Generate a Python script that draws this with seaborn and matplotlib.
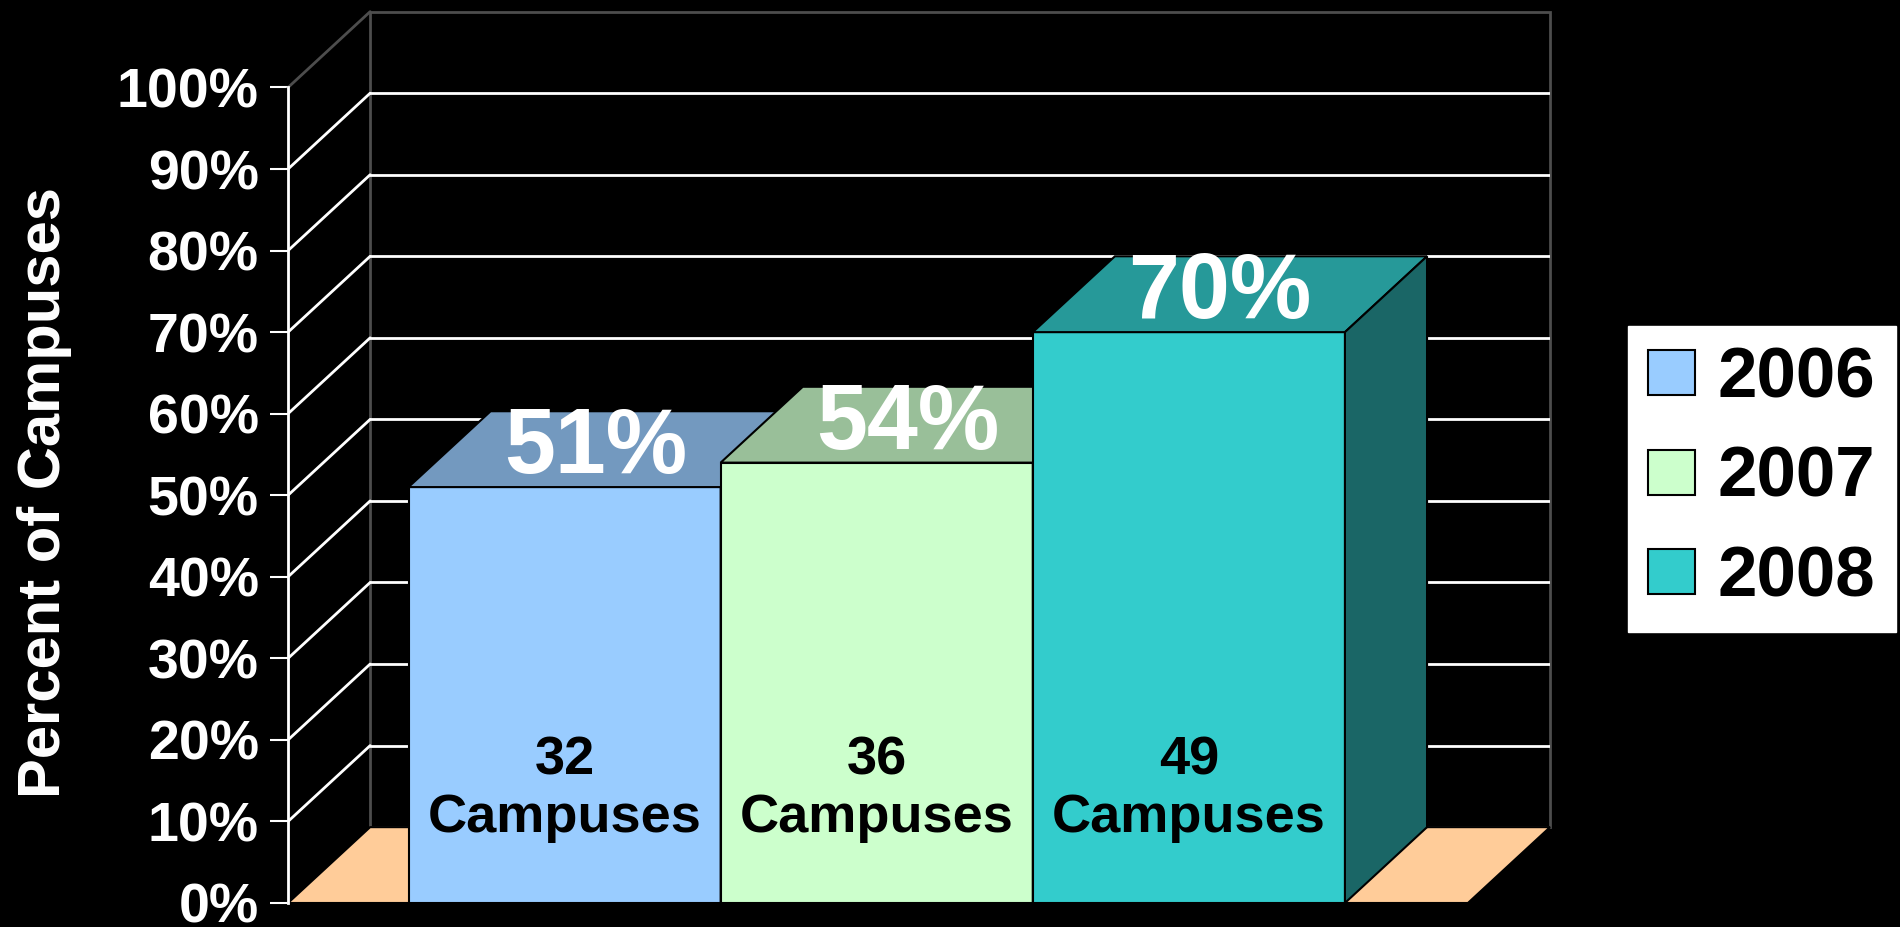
import matplotlib
matplotlib.use("Agg")
import pandas as pd
import matplotlib.pyplot as plt
from matplotlib import colors as mcolors
from matplotlib.patches import Polygon, Patch, Rectangle
import seaborn as sns

# --- Chart data ---
years = ["2006", "2007", "2008"]
percent_campuses = [51, 54, 70]
campus_counts = [32, 36, 49]
bar_colors = ["#99CCFF", "#CCFFCC", "#33CCCC"]
y_ticks = list(range(0, 101, 10))
y_tick_labels = [f"{t}%" for t in y_ticks]

# 3D look: depth offset of the back plane, and the front floor extent (data units)
DEPTH_X = 0.263
DEPTH_Y = 9.3
FLOOR_LEFT = -0.886
FLOOR_RIGHT = 2.894


def shade(color, factor):
    """Darken a colour by a factor (used for the top and side faces)."""
    r, g, b = mcolors.to_rgb(color)
    return (r * factor, g * factor, b * factor)


def draw_walls(ax):
    """Back wall gridlines, left wall diagonals and the floor."""
    back_left = FLOOR_LEFT + DEPTH_X
    back_right = FLOOR_RIGHT + DEPTH_X

    # back wall outline
    ax.add_patch(Rectangle((back_left, DEPTH_Y), back_right - back_left, 100,
                           facecolor="none", edgecolor="#4d4d4d", lw=2,
                           zorder=1, clip_on=False))
    ax.plot([FLOOR_LEFT, back_left], [100, 100 + DEPTH_Y], color="#4d4d4d",
            lw=2, zorder=1, clip_on=False)

    for v in y_ticks[1:-1]:
        ax.plot([back_left, back_right], [v + DEPTH_Y] * 2, color="white",
                lw=2, zorder=1)
        ax.plot([FLOOR_LEFT, back_left], [v, v + DEPTH_Y], color="white",
                lw=2, zorder=1)

    floor = Polygon([(FLOOR_LEFT, 0), (FLOOR_RIGHT, 0),
                     (back_right, DEPTH_Y), (back_left, DEPTH_Y)],
                    closed=True, facecolor="#FFCC99", edgecolor="black",
                    lw=1.5, zorder=2, clip_on=False)
    ax.add_patch(floor)


def add_bar_depth(ax, bars):
    """Add top and right-side faces to each seaborn bar, left to right."""
    bars = sorted(bars, key=lambda p: p.get_x())
    for i, (bar, color) in enumerate(zip(bars, bar_colors)):
        x, w, h = bar.get_x(), bar.get_width(), bar.get_height()
        z = 3 + i
        bar.set_zorder(z)
        top = Polygon([(x, h), (x + w, h), (x + w + DEPTH_X, h + DEPTH_Y),
                       (x + DEPTH_X, h + DEPTH_Y)], closed=True,
                      facecolor=shade(color, 0.75), edgecolor="black",
                      lw=1.5, zorder=z)
        side = Polygon([(x + w, 0), (x + w + DEPTH_X, DEPTH_Y),
                        (x + w + DEPTH_X, h + DEPTH_Y), (x + w, h)],
                       closed=True, facecolor=shade(color, 0.5),
                       edgecolor="black", lw=1.5, zorder=z)
        ax.add_patch(top)
        ax.add_patch(side)

        cx = x + w / 2
        ax.text(cx + 0.1, h + DEPTH_Y / 2, f"{percent_campuses[i]}%",
                color="white", fontsize=66, fontweight="bold",
                ha="center", va="center", zorder=z + 0.5)
        ax.text(cx, 17.5, str(campus_counts[i]), color="black", fontsize=39,
                fontweight="bold", ha="center", va="center", zorder=z + 0.5)
        ax.text(cx, 10.4, "Campuses", color="black", fontsize=39,
                fontweight="bold", ha="center", va="center", zorder=z + 0.5)


def main():
    sns.set_theme(style="white", rc={"axes.facecolor": "black",
                                     "figure.facecolor": "black"})
    plt.rcParams["font.family"] = ["Liberation Sans", "DejaVu Sans"]

    df = pd.DataFrame({"year": years, "percent": percent_campuses})

    fig = plt.figure(figsize=(19, 9.27), dpi=100, facecolor="black")
    ax = fig.add_axes([0.1516, 0.0259, 0.6642, 0.9633])
    ax.set_facecolor("black")

    sns.barplot(data=df, x="year", y="percent", hue="year",
                palette=bar_colors, saturation=1, width=1.0,
                edgecolor="black", linewidth=1.5, legend=False, ax=ax)
    bars = list(ax.patches)

    ax.set_xlim(FLOOR_LEFT, FLOOR_RIGHT + DEPTH_X)
    ax.set_ylim(0, 100 + DEPTH_Y + 0.2)

    draw_walls(ax)
    add_bar_depth(ax, bars)

    # --- axes styling ---
    ax.set_xticks([])
    ax.set_xlabel("")
    for s in ["top", "right", "bottom"]:
        ax.spines[s].set_visible(False)
    ax.spines["left"].set_color("white")
    ax.spines["left"].set_linewidth(2)
    ax.spines["left"].set_bounds(0, 100)
    ax.set_yticks(y_ticks, y_tick_labels, fontsize=40, fontweight="bold",
                  color="white")
    ax.tick_params(axis="y", colors="white", length=13, width=1.5, pad=8,
                   left=True)

    ax.set_ylabel("Percent of Campuses", fontsize=43, fontweight="bold",
                  color="white", va="center")
    ax.yaxis.set_label_coords(-0.193, 0.46)

    handles = [Patch(facecolor=c, edgecolor="black", lw=1.5) for c in bar_colors]
    leg = fig.legend(handles, years, loc="center",
                     bbox_to_anchor=(0.9274, 0.4833), frameon=True,
                     fancybox=False, facecolor="white", edgecolor="white",
                     framealpha=1, prop={"weight": "bold", "size": 51},
                     handlelength=0.65, handleheight=0.6, handletextpad=0.33,
                     labelspacing=0.475, borderpad=0.29, borderaxespad=0)
    for t in leg.get_texts():
        t.set_color("black")

    fig.savefig("out.png", dpi=100, facecolor="black")


if __name__ == "__main__":
    main()
